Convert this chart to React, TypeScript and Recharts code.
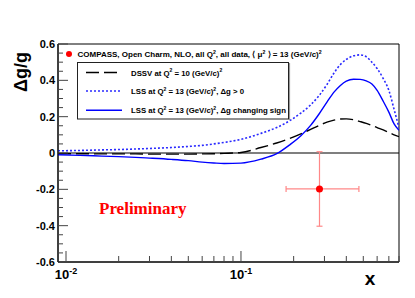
import React from 'react';
import {
  ComposedChart,
  Line,
  Scatter,
  XAxis,
  YAxis,
  ErrorBar,
  ReferenceLine,
  ReferenceArea,
  Legend,
} from 'recharts';

// ---- data ----
const xValues = [0.009, 0.012, 0.016, 0.02, 0.025, 0.03, 0.04, 0.05, 0.06, 0.07, 0.08, 0.1, 0.13, 0.16, 0.19, 0.22, 0.25, 0.28, 0.31, 0.34, 0.37, 0.4, 0.44, 0.48, 0.52, 0.56, 0.6, 0.65, 0.7, 0.75, 0.8];
const dssvValues = [-0.004, -0.004, -0.005, -0.005, -0.005, -0.006, -0.006, -0.006, -0.005, -0.004, -0.002, 0.003, 0.03, 0.055, 0.08, 0.105, 0.13, 0.152, 0.17, 0.181, 0.187, 0.188, 0.183, 0.173, 0.163, 0.152, 0.14, 0.127, 0.113, 0.1, 0.09];
const lssPositiveValues = [0.012, 0.014, 0.017, 0.019, 0.022, 0.025, 0.03, 0.036, 0.042, 0.05, 0.058, 0.075, 0.108, 0.14, 0.178, 0.22, 0.265, 0.317, 0.377, 0.44, 0.487, 0.515, 0.535, 0.54, 0.53, 0.5, 0.465, 0.41, 0.345, 0.24, 0.14];
const lssSignValues = [-0.01, -0.013, -0.017, -0.02, -0.024, -0.028, -0.035, -0.042, -0.05, -0.055, -0.058, -0.056, -0.034, -0.004, 0.045, 0.095, 0.152, 0.216, 0.28, 0.335, 0.372, 0.396, 0.406, 0.405, 0.397, 0.38, 0.345, 0.285, 0.225, 0.16, 0.125];

const compassX = [0.281];
const compassY = [-0.198];
const compassXErr = [[0.1, 0.191]];
const compassYErr = [0.205];

const xMajorTicks = [0.01, 0.1];
const xMinorTicks = [0.02, 0.03, 0.04, 0.05, 0.06, 0.07, 0.08, 0.09, 0.2, 0.3, 0.4, 0.5, 0.6, 0.7, 0.8];
const xTickLabels = [
  { base: '10', exp: '-2' },
  { base: '10', exp: '-1' },
];
const yTicks = [-0.6, -0.55, -0.5, -0.45, -0.4, -0.35, -0.3, -0.25, -0.2, -0.15, -0.1, -0.05, 0, 0.05, 0.1, 0.15, 0.2, 0.25, 0.3, 0.35, 0.4, 0.45, 0.5, 0.55, 0.6];
const yMajorTicks = [-0.6, -0.4, -0.2, 0, 0.2, 0.4, 0.6];
const yTickLabels = ['-0.6', '-0.4', '-0.2', '0', '0.2', '0.4', '0.6'];

const compassLabel = 'COMPASS, Open Charm, NLO, all Q², all data, ⟨ μ² ⟩ = 13 (GeV/c)²';
const dssvLabel = 'DSSV at Q² = 10 (GeV/c)²';
const lssPosLabel = 'LSS at Q² = 13 (GeV/c)², Δg  > 0';
const lssSignLabel = 'LSS at Q² = 13 (GeV/c)², Δg changing sign';

const chartData = xValues.map((x, i) => ({
  x,
  dssv: dssvValues[i],
  lssPos: lssPositiveValues[i],
  lssSign: lssSignValues[i],
}));

const compassData = compassX.map((x, i) => ({
  x,
  y: compassY[i],
  ex: compassXErr[i],
  ey: compassYErr[i],
}));

const FONT = '"Liberation Sans", Arial, Helvetica, sans-serif';
const TICK_COLOR = '#444';

const XTick = (props: any) => {
  const { x, y, payload } = props;
  const v = payload.value;
  const idx = xMajorTicks.findIndex((m) => Math.abs(m - v) < 1e-9);
  const len = idx >= 0 ? 11 : 6;
  return (
    <g>
      <line x1={x} x2={x} y1={y} y2={y - len} stroke={TICK_COLOR} strokeWidth={1} />
      {idx >= 0 && (
        <text x={x} y={y + 16.5} textAnchor="middle" fontFamily={FONT} fontWeight="bold" fontSize={13} fill="#000">
          {xTickLabels[idx].base}
          <tspan dy={-5} fontSize={9}>{xTickLabels[idx].exp}</tspan>
        </text>
      )}
    </g>
  );
};

const YTick = (props: any) => {
  const { x, y, payload } = props;
  const v = payload.value;
  const idx = yMajorTicks.findIndex((m) => Math.abs(m - v) < 1e-9);
  const len = idx >= 0 ? 10 : 5;
  return (
    <g>
      <line x1={x} x2={x + len} y1={y} y2={y} stroke={TICK_COLOR} strokeWidth={1} />
      {idx >= 0 && (
        <text x={x - 3} y={y + 4} textAnchor="end" fontFamily={FONT} fontWeight="bold" fontSize={11} fill="#000">
          {yTickLabels[idx]}
        </text>
      )}
    </g>
  );
};

const Sup = ({ text, size }: { text: string; size: number }) => {
  const parts = text.split('²');
  const out: any[] = [];
  parts.forEach((p, i) => {
    out.push(<tspan key={'p' + i} dy={i > 0 ? size * 0.4 : 0}>{p}</tspan>);
    if (i < parts.length - 1) {
      out.push(
        <tspan key={'s' + i} dy={-size * 0.4} fontSize={size * 0.65}>
          2
        </tspan>
      );
    }
  });
  return <>{out}</>;
};

const Overlay = () => {
  const fs = 7.8;
  const rows = [
    { y: 72.5, label: dssvLabel, stroke: '#000', dash: '13 5', w: 1.4 },
    { y: 91, label: lssPosLabel, stroke: '#2a2aff', dash: '2 2', w: 1.6 },
    { y: 110.3, label: lssSignLabel, stroke: '#0000ff', dash: undefined, w: 1.4 },
  ];
  return (
    <svg width={415} height={298} style={{ position: 'absolute', left: 0, top: 0 }}>
      <text
        x={0}
        y={0}
        transform="translate(27,72) rotate(-90)"
        textAnchor="middle"
        fontFamily={FONT}
        fontWeight="bold"
        fontSize={18}
        fill="#000"
      >
        Δg/g
      </text>
      <text x={370} y={285} textAnchor="middle" fontFamily={FONT} fontWeight="bold" fontSize={19} fill="#000">
        x
      </text>
      <circle cx={69} cy={54} r={3} fill="#ff0000" />
      <text x={77.5} y={57} fontFamily={FONT} fontWeight="bold" fontSize={8} fill="#000">
        <Sup text={compassLabel} size={8} />
      </text>
      <line x1={289.5} x2={289.5} y1={63} y2={120} stroke="#999" strokeWidth={1.2} />
      <rect x={77.5} y={62.5} width={211} height={56.5} fill="#fff" stroke="#222" strokeWidth={1} />
      {rows.map((r, i) => (
        <g key={i}>
          <line x1={86} x2={122} y1={r.y} y2={r.y} stroke={r.stroke} strokeWidth={r.w} strokeDasharray={r.dash} />
          <text x={131} y={r.y + 3} fontFamily={FONT} fontWeight="bold" fontSize={fs} fill="#000">
            <Sup text={r.label} size={fs} />
          </text>
        </g>
      ))}
      <text x={99} y={214} fontFamily='"Liberation Serif", "Times New Roman", serif' fontWeight="bold" fontSize={17} fill="#ff0000">
        Preliminary
      </text>
    </svg>
  );
};

export default function App() {
  return (
    <div style={{ position: 'absolute', left: 0, top: 0, width: 415, height: 298, background: '#fff' }}>
      <ComposedChart
        width={415}
        height={298}
        data={chartData}
        margin={{ top: 44, right: 16, bottom: 6, left: 18 }}
      >
        <XAxis
          dataKey="x"
          type="number"
          scale="log"
          domain={[0.009, 0.8]}
          allowDataOverflow
          ticks={[...xMajorTicks, ...xMinorTicks]}
          tick={<XTick />}
          tickLine={false}
          tickSize={0}
          tickMargin={0}
          height={30}
          axisLine={{ stroke: '#000' }}
          interval={0}
        />
        <YAxis
          type="number"
          domain={[-0.6, 0.6]}
          allowDataOverflow
          ticks={yTicks}
          tick={<YTick />}
          tickLine={false}
          tickSize={0}
          tickMargin={0}
          width={40}
          axisLine={{ stroke: '#000' }}
          interval={0}
        />
        <ReferenceLine y={0} stroke="#000" strokeWidth={1.2} />
        <Line
          dataKey="dssv"
          name={dssvLabel}
          type="monotone"
          stroke="#000"
          strokeWidth={1.4}
          strokeDasharray="13 5"
          dot={false}
          isAnimationActive={false}
        />
        <Line
          dataKey="lssPos"
          name={lssPosLabel}
          type="monotone"
          stroke="#2a2aff"
          strokeWidth={1.6}
          strokeDasharray="2 2"
          dot={false}
          isAnimationActive={false}
        />
        <Line
          dataKey="lssSign"
          name={lssSignLabel}
          type="monotone"
          stroke="#0000ff"
          strokeWidth={1.4}
          dot={false}
          isAnimationActive={false}
        />
        <Scatter
          data={compassData}
          dataKey="y"
          name={compassLabel}
          fill="#ff0000"
          isAnimationActive={false}
          shape={(p: any) => <circle cx={p.cx} cy={p.cy} r={3.5} fill="#ff0000" />}
        >
          <ErrorBar dataKey="ex" direction="x" stroke="#ff8888" strokeWidth={1.2} width={3} />
          <ErrorBar dataKey="ey" direction="y" stroke="#ff8888" strokeWidth={1.2} width={3} />
        </Scatter>
        <ReferenceArea
          x1={0.009}
          x2={0.8}
          y1={-0.6}
          y2={0.6}
          fill="none"
          fillOpacity={0}
          stroke="#000"
          strokeWidth={1}
        />
        <Legend
          verticalAlign="middle"
          align="center"
          layout="horizontal"
          wrapperStyle={{ position: 'absolute', left: 0, top: 0, width: 415, height: 298, pointerEvents: 'none' }}
          content={() => <Overlay />}
        />
      </ComposedChart>
    </div>
  );
}
